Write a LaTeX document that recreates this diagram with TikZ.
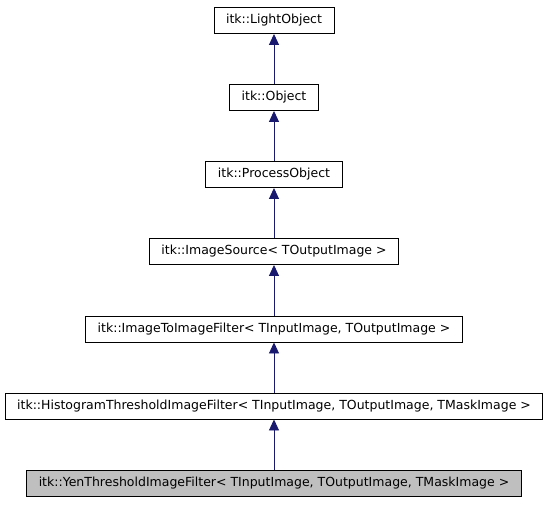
\documentclass[tikz,border=0pt]{standalone}
\usepackage{fontspec}
\setmainfont{DejaVu Sans}
\usetikzlibrary{arrows.meta}
\definecolor{edgeblue}{HTML}{191970}
\definecolor{fillgray}{HTML}{BFBFBF}

\begin{document}
\begin{tikzpicture}[x=1pt,y=-1pt,
    classbox/.style={draw,line width=0.9pt,minimum height=26pt,inner xsep=12pt,
      font=\fontsize{12.5}{14}\selectfont},
    inherit/.style={draw=edgeblue,line width=0.9pt,
      -{Triangle[length=11pt,width=10pt,fill=edgeblue]}}]
    \useasboundingbox (0,0) rectangle (549,504);
\node[classbox] (LightObject) at (274,20.5) {itk::LightObject}; % LightObject
\node[classbox] (Object) at (274,97.5) {itk::Object}; % Object
\node[classbox] (ProcessObject) at (274,174.5) {itk::ProcessObject}; % ProcessObject
\node[classbox] (ImageSource) at (274,251.5) {itk::ImageSource< TOutputImage >}; % ImageSource
\node[classbox] (ImageToImage) at (274,329) {itk::ImageToImageFilter< TInputImage, TOutputImage >}; % ImageToImageFilter
\node[classbox] (Histogram) at (274,406) {itk::HistogramThresholdImageFilter< TInputImage, TOutputImage, TMaskImage >}; % HistogramThresholdImageFilter
\node[classbox,fill=fillgray] (Yen) at (274,483.5) {itk::YenThresholdImageFilter< TInputImage, TOutputImage, TMaskImage >}; % YenThresholdImageFilter
\draw[inherit] (Object) -- (LightObject); % Object -> LightObject
\draw[inherit] (ProcessObject) -- (Object); % ProcessObject -> Object
\draw[inherit] (ImageSource) -- (ProcessObject); % ImageSource -> ProcessObject
\draw[inherit] (ImageToImage) -- (ImageSource); % ImageToImage -> ImageSource
\draw[inherit] (Histogram) -- (ImageToImage); % Histogram -> ImageToImage
\draw[inherit] (Yen) -- (Histogram); % Yen -> Histogram

    \end{tikzpicture}
\end{document}
